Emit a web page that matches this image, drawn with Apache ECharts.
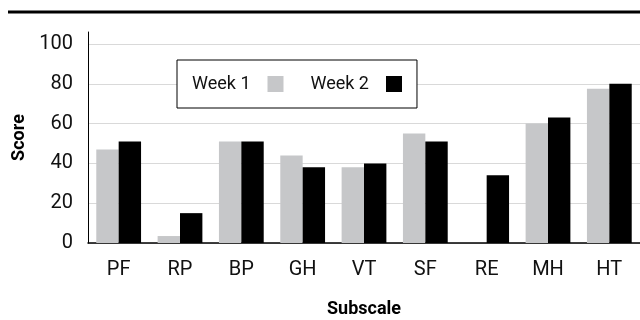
<!DOCTYPE html>
<html><head><meta charset="utf-8">
<script src="https://cdn.jsdelivr.net/npm/echarts@6/dist/echarts.min.js"></script>
<style>html,body{margin:0;padding:0;background:#fff}#c{width:640px;height:320px}</style>
</head><body><div id="c"></div>
<script>
const categories = ['PF','RP','BP','GH','VT','SF','RE','MH','HT'];
const week1 = [47, 3.5, 51, 44, 38, 55, 0, 60, 77.5];
const week2 = [51, 15, 51, 38, 40, 51, 34, 63, 80];
const yTicks = [0, 20, 40, 60, 80, 100];
const FONT = "'Roboto', sans-serif";
const chart = echarts.init(document.getElementById('c'), null, {renderer:'canvas'});
chart.setOption({
  animation:false,
  grid:{left:88,right:0,top:32,bottom:77,outerBoundsMode:'none',containLabel:false},
  graphic:[{type:'line',shape:{x1:8,y1:12,x2:640,y2:12},style:{stroke:'#000',lineWidth:3}}],
  legend:{
    left:177, top:60,
    orient:'horizontal', align:'right',
    borderColor:'#000', borderWidth:1, backgroundColor:'#fff',
    padding:[15,15,15,15], itemGap:27, itemWidth:16, itemHeight:16,
    textStyle:{fontFamily:FONT,fontSize:18,color:'#111',padding:[0,12,0,0]},
    data:[{name:'Week 1',icon:'rect'},{name:'Week 2',icon:'rect'}]
  },
  xAxis:{
    type:'category', data:categories,
    name:'Subscale', nameLocation:'middle', nameGap:57,
    nameTextStyle:{fontFamily:FONT,fontSize:18,fontWeight:'bold',color:'#000'},
    axisLine:{lineStyle:{color:'#000',width:1.5}},
    axisTick:{show:false},
    axisLabel:{fontFamily:FONT,fontSize:20,color:'#111',margin:17}
  },
  yAxis:{
    type:'value', min:0, max:106, interval:20,
    name:'Score', nameLocation:'middle', nameGap:60, nameRotate:90,
    nameTextStyle:{fontFamily:FONT,fontSize:18,fontWeight:'bold',color:'#000'},
    axisLine:{show:true,lineStyle:{color:'#000',width:1}},
    axisTick:{show:false},
    axisLabel:{fontFamily:FONT,fontSize:20,color:'#111',margin:15,showMaxLabel:false,
      formatter:v=>yTicks.includes(v)?String(v):''},
    splitLine:{show:true,showMaxLine:false,lineStyle:{color:'#d9d9d9',width:1}}
  },
  series:[
    {name:'Week 1',type:'bar',data:week1,itemStyle:{color:'#c6c7c9'},barGap:'0%',barCategoryGap:'27%'},
    {name:'Week 2',type:'bar',data:week2,itemStyle:{color:'#000'},barGap:'0%',barCategoryGap:'27%'}
  ]
});
</script></body></html>
